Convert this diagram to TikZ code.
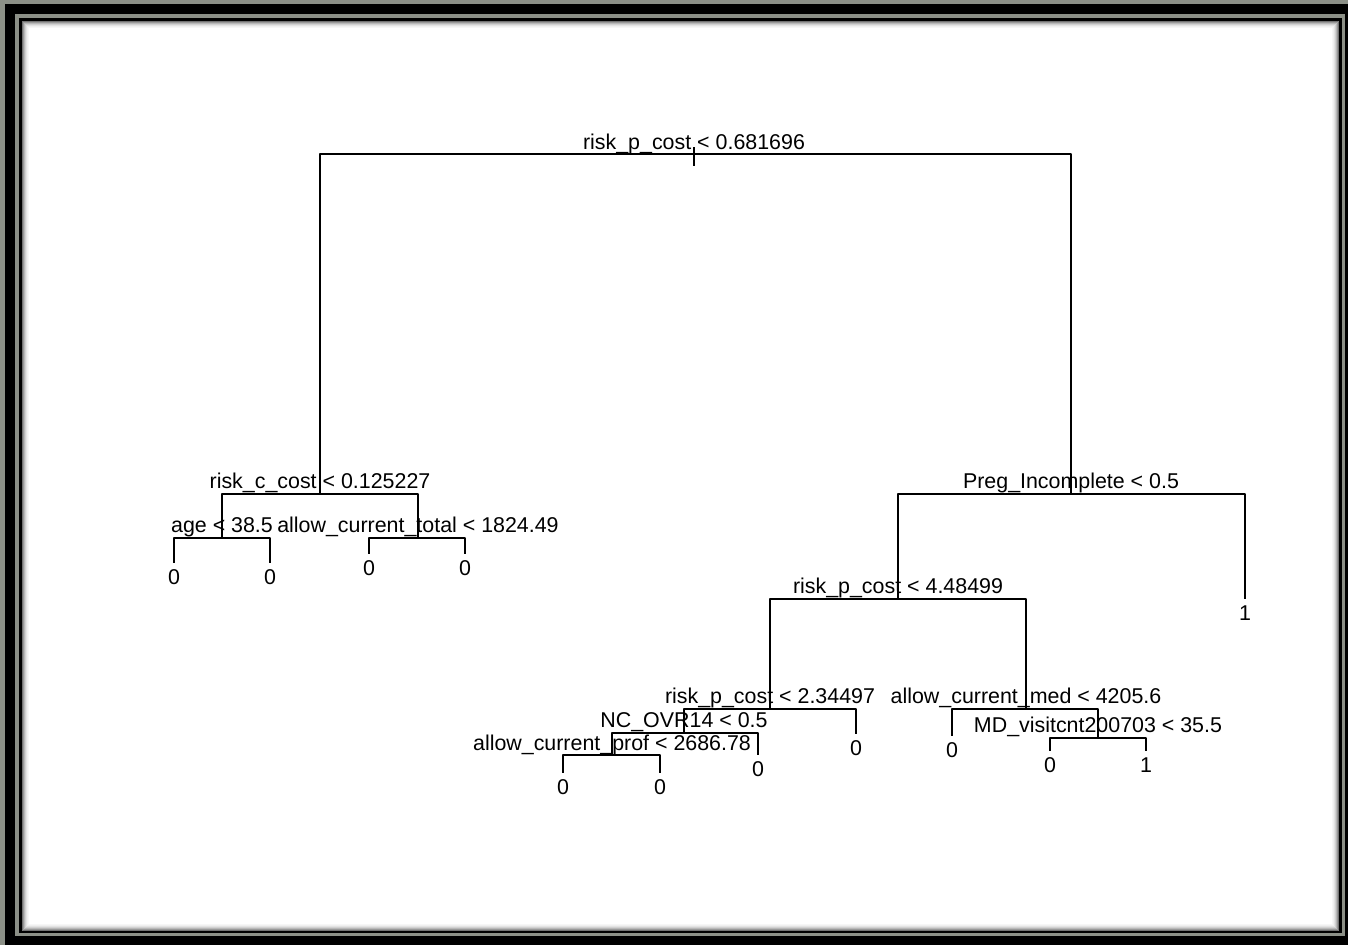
\documentclass[tikz,border=0pt]{standalone}
\usepackage{fontspec}
\setmainfont{Liberation Sans}
\definecolor{framegrey}{RGB}{140,144,135}
\begin{document}
\begin{tikzpicture}[x=1pt,y=-1pt,line join=round,line cap=rect,
	split/.style={anchor=base,inner sep=0pt,font=\fontsize{21.4}{25}\selectfont},
	leaf/.style={anchor=base,inner sep=0pt,font=\fontsize{21.4}{25}\selectfont},
	branch/.style={line width=1.1pt}]
	\useasboundingbox (0,0) rectangle (1348,945);
	% window frame
	\fill[framegrey] (0,0) rectangle (1348,945);
	\fill[black] (5,4) rectangle (1348,945);
	\fill[framegrey] (15,14) rectangle (1345,936);
	\fill[black] (19,18) rectangle (1342,933);
	\fill[white] (22,21) rectangle (1339,931);
	\foreach \i/\c in {0/55,1/40,2/28,3/18,4/11,5/6,6/3}
		\draw[black!\c, line width=1pt] (22.5+\i,21.5+\i) rectangle (1338.5-\i,930.5-\i);
	% split points
	\coordinate (n1) at (694,154);
	\coordinate (n2) at (320,494);
	\coordinate (n3) at (1071,494);
	\coordinate (n4) at (222,538);
	\coordinate (n5) at (418,538);
	\coordinate (n6) at (898,599);
	\coordinate (n7) at (770,709);
	\coordinate (n8) at (1026,709);
	\coordinate (n9) at (684,733);
	\coordinate (n10) at (612,755);
	\coordinate (n11) at (1098,738);
	% leaf ends
	\coordinate (l1) at (174,562);
	\coordinate (l2) at (270,562);
	\coordinate (l3) at (369,553);
	\coordinate (l4) at (465,553);
	\coordinate (l5) at (1245,598);
	\coordinate (l6) at (856,733);
	\coordinate (l7) at (758,754);
	\coordinate (l8) at (563,772);
	\coordinate (l9) at (660,772);
	\coordinate (l10) at (952,735);
	\coordinate (l11) at (1050,750);
	\coordinate (l12) at (1146,750);
	% branches
	\draw[branch] ([yshift=6]n1) -- ([yshift=-11]n1);
	\draw[branch] (n1) -| (n2);
	\draw[branch] (n1) -| (n3);
	\draw[branch] (n2) -| (n4);
	\draw[branch] (n2) -| (n5);
	\draw[branch] (n4) -| (l1);
	\draw[branch] (n4) -| (l2);
	\draw[branch] (n5) -| (l3);
	\draw[branch] (n5) -| (l4);
	\draw[branch] (n3) -| (n6);
	\draw[branch] (n3) -| (l5);
	\draw[branch] (n6) -| (n7);
	\draw[branch] (n6) -| (n8);
	\draw[branch] (n7) -| (n9);
	\draw[branch] (n7) -| (l6);
	\draw[branch] (n9) -| (n10);
	\draw[branch] (n9) -| (l7);
	\draw[branch] (n10) -| (l8);
	\draw[branch] (n10) -| (l9);
	\draw[branch] (n8) -| (l10);
	\draw[branch] (n8) -| (n11);
	\draw[branch] (n11) -| (l11);
	\draw[branch] (n11) -| (l12);
	% split labels
	\node[split] (s1) at ([yshift=5]n1) {risk\_p\_cost < 0.681696};
	\node[split] (s2) at ([yshift=6]n2) {risk\_c\_cost < 0.125227};
	\node[split] (s3) at ([yshift=6]n3) {Preg\_Incomplete < 0.5};
	\node[split] (s4) at ([yshift=6]n4) {age < 38.5};
	\node[split] (s5) at ([yshift=6]n5) {allow\_current\_total < 1824.49};
	\node[split] (s6) at ([yshift=6]n6) {risk\_p\_cost < 4.48499};
	\node[split] (s7) at ([yshift=6]n7) {risk\_p\_cost < 2.34497};
	\node[split] (s8) at ([yshift=6]n8) {allow\_current\_med < 4205.6};
	\node[split] (s9) at ([yshift=6]n9) {NC\_OVR14 < 0.5};
	\node[split] (s10) at ([yshift=5]n10) {allow\_current\_prof < 2686.78};
	\node[split] (s11) at ([yshift=6]n11) {MD\_visitcnt200703 < 35.5};
	% leaf labels
	\foreach \l/\v in {l1/0,l2/0,l3/0,l4/0,l5/1,l6/0,l7/0,l8/0,l9/0,l10/0,l11/0,l12/1}
		\node[leaf] (f\l) at ([yshift=-22]\l) {\v};
\end{tikzpicture}
\end{document}
